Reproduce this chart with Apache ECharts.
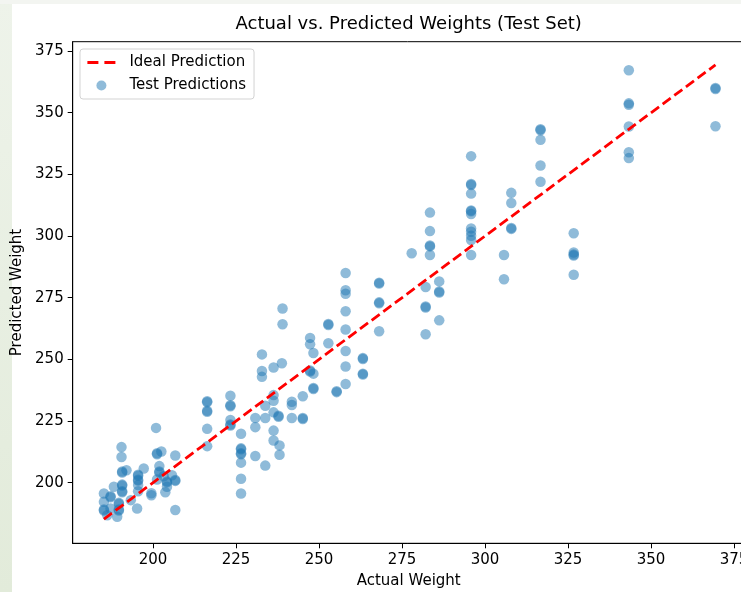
<!DOCTYPE html>
<html>
<head>
<meta charset="utf-8">
<title>Actual vs. Predicted Weights</title>
<script src="https://cdn.jsdelivr.net/npm/echarts@6/dist/echarts.min.js"></script>
<style>
  html, body { margin: 0; padding: 0; background: #fff; }
  #chart { width: 741px; height: 592px; }
</style>
</head>
<body>
<div id="chart"></div>
<script>
// test set: actual weight vs model prediction
const actualWeights = [
  343.3, 343.3, 343.3, 343.3, 343.3, 343.3,
  369.4, 369.4, 369.4,
  316.7, 316.7, 316.7, 316.7, 316.7,
  326.7, 326.7, 326.7, 326.7, 326.7,
  307.9, 307.9, 307.9, 307.9, 305.7, 305.7,
  295.8, 295.8, 295.8, 295.8, 295.8, 295.8, 295.8, 295.8, 295.8, 295.8, 295.8, 295.8,
  283.4, 283.4, 283.4, 283.4, 283.4, 277.9,
  282.1, 282.1, 282.1, 282.1,
  286.2, 286.2, 286.2, 286.2,
  268.1, 268.1, 268.1, 268.1, 268.1,
  258.0, 258.0, 258.0, 258.0, 258.0,
  252.8, 252.8, 252.8,
  247.3, 247.3, 248.3, 247.3, 247.3, 248.3, 248.3, 248.3,
  258.0, 258.0, 258.0, 255.3, 255.3,
  263.2, 263.2, 263.2, 263.2,
  245.1, 241.8, 241.8, 245.1, 245.1, 241.8,
  239.0, 239.0,
  232.8, 232.8, 232.8, 236.3, 238.8,
  236.3, 236.3, 236.3, 236.3, 236.3, 237.8, 237.8, 238.1, 238.1,
  233.8, 233.8, 233.8, 230.8, 230.8, 230.8,
  223.3, 223.3, 223.3, 223.3, 223.3, 223.3,
  226.5, 226.5, 226.5, 226.5, 226.5, 226.5, 226.5, 226.5,
  216.3, 216.3, 216.3, 216.3, 216.3, 216.3,
  200.9,
  190.5, 190.5, 201.2, 201.2, 202.5, 206.7,
  190.7, 190.7, 192.0, 197.2,
  195.5, 195.5, 195.5, 195.5, 195.5, 195.5,
  201.9, 201.9, 201.9,
  204.2, 204.2, 206.7, 206.7, 203.7, 205.7, 203.2, 201.2, 204.2,
  199.5, 199.5,
  190.7, 190.7, 190.7, 190.7, 188.2,
  185.2, 185.2, 187.2, 187.2, 185.2, 185.2, 187.2,
  189.7, 189.7, 189.7, 189.7, 189.2, 186.2,
  193.3, 195.2, 206.7
];
const predictedWeights = [
  367.2, 353.8, 353.2, 344.4, 334.0, 331.6,
  360.0, 359.6, 344.5,
  343.3, 342.9, 339.0, 328.6, 322.0,
  301.1, 293.3, 292.5, 292.1, 284.3,
  317.5, 313.4, 303.3, 302.9, 292.3, 282.5,
  332.4, 321.1, 320.7, 317.2, 310.4, 310.0, 308.9, 303.1, 301.7, 300.1, 298.4, 292.3,
  309.5, 302.0, 296.2, 295.8, 292.3, 293.0,
  279.3, 271.4, 271.0, 260.2,
  281.6, 277.5, 277.1, 265.8,
  281.1, 280.7, 273.1, 272.7, 261.4,
  285.0, 278.0, 276.6, 269.5, 262.1,
  264.3, 263.9, 256.5,
  258.7, 256.1, 252.6, 245.5, 245.1, 244.2, 238.4, 238.0,
  253.4, 247.1, 240.0, 237.1, 236.7,
  250.5, 250.1, 244.2, 243.8,
  235.0, 232.8, 231.5, 226.2, 225.8, 226.2,
  270.6, 264.2,
  252.0, 245.3, 242.9, 246.7, 248.4,
  235.5, 233.2, 228.5, 221.1, 217.1, 227.1, 226.7, 215.1, 211.3,
  231.2, 226.2, 206.9, 226.2, 222.5, 210.8,
  235.2, 231.4, 231.0, 225.4, 223.6, 223.2,
  219.8, 213.9, 213.5, 211.9, 211.5, 208.1, 201.6, 195.6,
  233.0, 232.6, 229.1, 228.7, 221.8, 214.8,
  222.2,
  214.4, 210.4, 211.9, 211.5, 212.6, 211.0,
  204.5, 204.1, 205.0, 205.7,
  203.2, 202.8, 201.2, 200.8, 199.0, 196.5,
  204.5, 204.1, 206.7,
  200.5, 200.1, 201.1, 200.7, 196.1, 203.0, 202.6, 201.3, 198.3,
  195.7, 194.9,
  199.2, 198.8, 196.5, 196.1, 198.3,
  195.6, 192.2, 194.5, 194.1, 189.1, 188.7, 189.5,
  191.8, 191.4, 189.1, 188.7, 186.2, 186.8,
  192.9, 189.5, 188.9
];
const tickValues = [200, 225, 250, 275, 300, 325, 350, 375];

const scatterData = actualWeights.map((a, i) => [a, predictedWeights[i]]);
const lo = Math.min(...actualWeights);
const hi = Math.max(...actualWeights);
const idealLine = [[lo, lo], [hi, hi]];

const font = "DejaVu Sans";
const myChart = echarts.init(document.getElementById("chart"), null, { renderer: "canvas" });

const axisCommon = {
  type: "value",
  axisLine: { show: true, onZero: false, lineStyle: { color: "#000", width: 1 } },
  axisTick: { show: true, inside: false, length: 5, customValues: tickValues, lineStyle: { color: "#000", width: 1 } },
  axisLabel: { customValues: tickValues, color: "#000", fontFamily: font, fontSize: 15, margin: 9 },
  splitLine: { show: false },
  nameLocation: "middle",
  nameTextStyle: { color: "#000", fontFamily: font, fontSize: 15 },
};

const option = {
  animation: false,
  backgroundColor: "#fff",
  graphic: [
    {
      type: "rect",
      shape: { x: 0, y: 0, width: 12, height: 592 },
      style: {
        fill: new echarts.graphic.LinearGradient(0, 0, 0, 1, [
          { offset: 0, color: "#eef3ea" },
          { offset: 1, color: "#e2ebda" },
        ]),
      },
      silent: true,
    },
    {
      type: "rect",
      shape: { x: 0, y: 0, width: 741, height: 4 },
      style: { fill: "#f3f5f1" },
      silent: true,
    },
  ],
  title: {
    text: "Actual vs. Predicted Weights (Test Set)",
    left: 408.7,
    textAlign: "center",
    top: 15,
    padding: 0,
    textStyle: { color: "#000", fontFamily: font, fontSize: 18, fontWeight: "normal" },
  },
  legend: {
    orient: "vertical",
    left: 80,
    top: 49,
    padding: [6, 8, 6, 6],
    itemWidth: 28,
    itemHeight: 10,
    itemGap: 8,
    borderColor: "#d3d3d3",
    borderWidth: 1,
    borderRadius: 3,
    backgroundColor: "rgba(255,255,255,0.8)",
    data: [
      {
        name: "Ideal Prediction",
        itemStyle: { opacity: 0 },
        lineStyle: { color: "#ff0000", width: 2.8, type: [11, 6] },
      },
      { name: "Test Predictions" },
    ],
    textStyle: { color: "#000", fontFamily: font, fontSize: 15, padding: [0, 0, 0, 9] },
  },
  grid: {
    left: 72.7,
    top: 41.7,
    width: 672,
    height: 501.6,
    outerBoundsMode: "none",
    containLabel: false,
    show: true,
    borderColor: "#000",
    borderWidth: 1,
    backgroundColor: "transparent",
  },
  xAxis: {
    ...axisCommon,
    min: 175.8,
    max: 378.2,
    name: "Actual Weight",
    nameGap: 30,
  },
  yAxis: {
    ...axisCommon,
    min: 175.4,
    max: 378.8,
    name: "Predicted Weight",
    nameGap: 42,
  },
  series: [
    {
      name: "Test Predictions",
      type: "scatter",
      data: scatterData,
      symbol: "circle",
      symbolSize: 10.5,
      itemStyle: { color: "#1f77b4", opacity: 0.5 },
      z: 2,
    },
    {
      name: "Ideal Prediction",
      type: "line",
      data: idealLine,
      symbol: "none",
      lineStyle: { color: "#ff0000", width: 2.8, type: [10, 4.5] },
      itemStyle: { color: "#ff0000" },
      z: 3,
    },
  ],
};

myChart.setOption(option);
</script>
</body>
</html>
